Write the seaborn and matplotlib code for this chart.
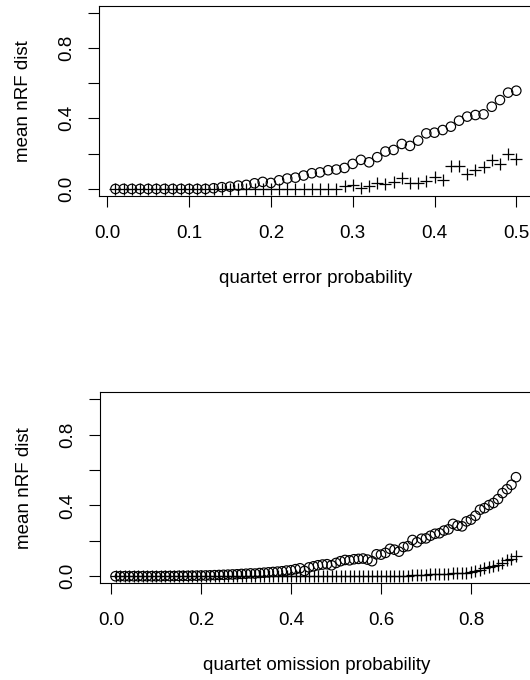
import numpy as np
import pandas as pd
import matplotlib
matplotlib.use("Agg")
import matplotlib.pyplot as plt
import seaborn as sns

# ---- data ----
err_prob = [round(0.01 * i, 2) for i in range(1, 51)]
err_circle = [0, 0, 0, 0, 0, 0, 0, 0, 0, 0,
              0, 0, 0.004, 0.010, 0.013, 0.019, 0.023, 0.032, 0.040, 0.034,
              0.049, 0.059, 0.064, 0.076, 0.089, 0.094, 0.106, 0.110, 0.119, 0.142,
              0.165, 0.151, 0.180, 0.212, 0.221, 0.255, 0.244, 0.274, 0.315, 0.319,
              0.334, 0.353, 0.387, 0.410, 0.419, 0.423, 0.466, 0.504, 0.546, 0.557]
err_plus = [0, 0, 0, 0, 0, 0, 0, 0, 0, 0,
            0, 0, 0, 0, 0, 0, 0, 0, 0, 0,
            0, 0, 0, 0.001, 0.001, 0.001, 0.001, 0.002, 0.017, 0.023,
            0.004, 0.017, 0.036, 0.026, 0.038, 0.062, 0.032, 0.036, 0.047, 0.070,
            0.051, 0.130, 0.130, 0.085, 0.108, 0.127, 0.164, 0.142, 0.196, 0.172]

om_prob = [round(0.01 * i, 2) for i in range(1, 91)]
om_circle = [0, 0, 0, 0, 0, 0, 0, 0, 0, 0,
             0, 0.001, 0.001, 0.001, 0.002, 0.002, 0.002, 0.003, 0.003, 0.004,
             0.004, 0.005, 0.006, 0.007, 0.008, 0.009, 0.010, 0.011, 0.013, 0.014,
             0.016, 0.015, 0.018, 0.020, 0.022, 0.024, 0.026, 0.028, 0.032, 0.034,
             0.040, 0.045, 0.030, 0.050, 0.056, 0.062, 0.066, 0.068, 0.062, 0.075,
             0.085, 0.092, 0.090, 0.096, 0.098, 0.100, 0.094, 0.085, 0.124, 0.122,
             0.132, 0.155, 0.150, 0.139, 0.165, 0.170, 0.205, 0.192, 0.212, 0.214,
             0.229, 0.240, 0.243, 0.258, 0.265, 0.296, 0.286, 0.282, 0.310, 0.320,
             0.342, 0.376, 0.385, 0.402, 0.414, 0.436, 0.470, 0.492, 0.517, 0.560]
om_plus = [0] * 55 + [0.001, 0.001, 0.001, 0.002, 0.002, 0.002, 0.002, 0.003, 0.003, 0.003,
                      0.004, 0.005, 0.006, 0.007, 0.009, 0.010, 0.011, 0.012, 0.014, 0.015,
                      0.016, 0.018, 0.019, 0.020, 0.024, 0.028, 0.036, 0.045, 0.052, 0.060,
                      0.066, 0.076, 0.090, 0.098, 0.113]

yticks = [0.0, 0.2, 0.4, 0.6, 0.8, 1.0]
ytick_labels = ["0.0", "", "0.4", "", "0.8", ""]
err_xticks = [0.0, 0.1, 0.2, 0.3, 0.4, 0.5]
om_xticks = [0.0, 0.2, 0.4, 0.6, 0.8]

sns.set_theme(style="white")
plt.rcParams["font.family"] = ["Liberation Sans", "DejaVu Sans"]
FS = 13.5

W, H = 530, 680
fig = plt.figure(figsize=(W / 100, H / 100), dpi=100)

def px_axes(left, right, top, bottom):
    return fig.add_axes([left / W, 1 - bottom / H, (right - left) / W, (bottom - top) / H])

ax1 = px_axes(99, 533, 5.5, 196)
ax2 = px_axes(99.5, 533, 392.3, 583.3)

def draw(ax, x, yc, yp):
    df = pd.DataFrame({"x": x, "c": yc, "p": yp})
    sns.scatterplot(data=df, x="x", y="c", ax=ax, marker="o", s=46,
                    facecolors="none", edgecolor="black", linewidth=0.85, zorder=3)
    sns.scatterplot(data=df, x="x", y="p", ax=ax, marker="+", s=64,
                    color="black", linewidth=0.9, zorder=3)

draw(ax1, err_prob, err_circle, err_plus)
draw(ax2, om_prob, om_circle, om_plus)

ax1.set_xlim(-0.0101, 0.5204)
ax2.set_xlim(-0.0256, 0.9378)

for ax, xt, xl in [(ax1, err_xticks, "quartet error probability"),
                   (ax2, om_xticks, "quartet omission probability")]:
    ax.set_ylim(-0.04, 1.04)
    ax.set_xticks(xt)
    ax.set_xticklabels([f"{v:.1f}" for v in xt])
    ax.set_yticks(yticks)
    ax.set_yticklabels(ytick_labels, rotation=90, va="center")
    ax.tick_params(axis="both", which="major", direction="out", length=8,
                   width=0.8, color="black", labelsize=FS, labelcolor="black",
                   bottom=True, left=True, top=False, right=False)
    ax.tick_params(axis="x", pad=13)
    ax.tick_params(axis="y", pad=9)
    ax.set_xlabel(xl, fontsize=FS, labelpad=20, color="black")
    ax.set_ylabel("mean nRF dist", fontsize=FS, labelpad=19, color="black")
    for sp in ax.spines.values():
        sp.set_visible(True)
        sp.set_color("black")
        sp.set_linewidth(0.8)
    ax.set_facecolor("white")
    ax.grid(False)

fig.savefig("out.png", dpi=100, facecolor="white")
